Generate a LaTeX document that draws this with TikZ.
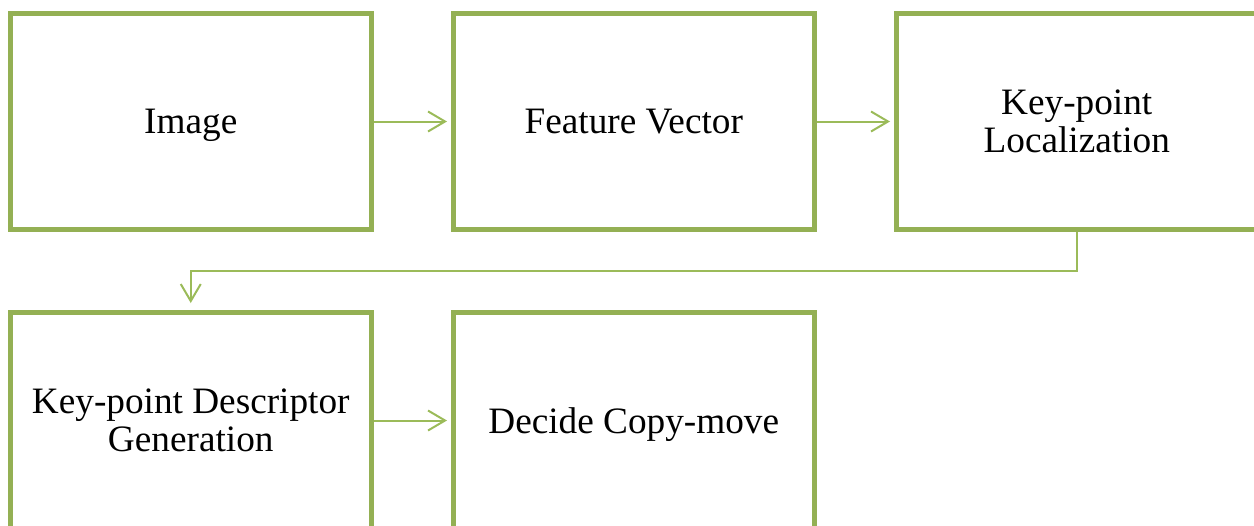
\documentclass[tikz,border=0pt]{standalone}
\usepackage{fontspec}
\setmainfont{Liberation Serif}
\usetikzlibrary{arrows.meta}
\definecolor{boxgreen}{RGB}{148,176,84}
\definecolor{arrowgreen}{RGB}{155,187,89}
\begin{document}
\begin{tikzpicture}[>={Straight Barb[length=3.4mm,width=4mm]},
  stage/.style={rectangle, draw=boxgreen, line width=0.1cm, minimum width=7.21cm, minimum height=4.32cm, align=center, font=\fontsize{21.2}{21.8}\selectfont},
  oneline/.style={text depth=0pt},
  link/.style={->, draw=arrowgreen, line width=0.04cm}]

            \useasboundingbox (0,0) rectangle (25.08,-10.5);
            \clip (0,0) rectangle (25.08,-10.5);

            % Nodes
            \node[stage, oneline] (image) at (3.815,-2.43) {Image};
            \node[stage, oneline] (feature) at (12.675,-2.43) {Feature Vector};
            \node[stage] (keyloc) at (21.535,-2.43) {Key-point\\Localization};
            \node[stage] (keydesc) at (3.815,-8.41) {Key-point Descriptor\\Generation};
            \node[stage, oneline] (decide) at (12.675,-8.41) {Decide Copy-move};

            % Arrows
            \draw[link, shorten >=0.08cm] (image) -- (feature);
            \draw[link, shorten >=0.08cm] (feature) -- (keyloc);
            \draw[link, shorten >=0.14cm] (keyloc.south) -- ++(0,-0.77) -| (keydesc.north);
            \draw[link, shorten >=0.08cm] (keydesc) -- (decide);

          \end{tikzpicture}
\end{document}
